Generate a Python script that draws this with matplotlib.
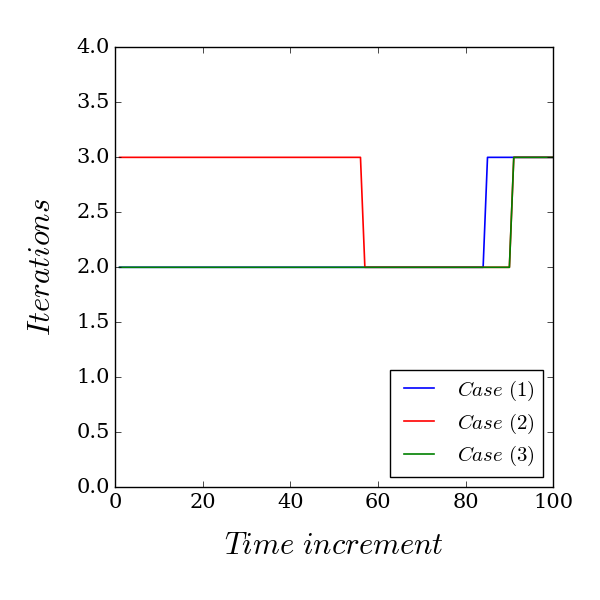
import matplotlib
matplotlib.use("Agg")
import matplotlib.pyplot as plt
import numpy as np

plt.style.use('classic')
plt.rcParams['mathtext.fontset'] = 'cm'
plt.rcParams['font.family'] = 'serif'
plt.rcParams['font.serif'] = ['DejaVu Serif']

steps = list(range(1, 101))
case1 = [2] * 84 + [3] * 16
case2 = [3] * 56 + [2] * 34 + [3] * 10
case3 = [2] * 90 + [3] * 10

labels = [r'$Case\ (1)$', r'$Case\ (2)$', r'$Case\ (3)$']
colors = ['b', 'r', 'g']

fig = plt.figure(figsize=(6, 6), dpi=100)
ax = fig.add_axes([0.192, 0.188, 0.73, 0.733])
for y, c, l in zip([case1, case2, case3], colors, labels):
    ax.plot(steps, y, color=c, label=l, lw=1.2)

ax.set_xlim(0, 100)
ax.set_ylim(0, 4)
ax.set_yticks(np.arange(0, 4.01, 0.5))
ax.set_xlabel(r'$Time\ increment$', fontsize=22, labelpad=13)
ax.set_ylabel(r'$Iterations$', fontsize=22, labelpad=14)
ax.tick_params(labelsize=15)
leg = ax.legend(loc='lower right', fontsize=15, frameon=True, labelspacing=0.42)
fig.savefig('out.png', dpi=100, facecolor='white')
